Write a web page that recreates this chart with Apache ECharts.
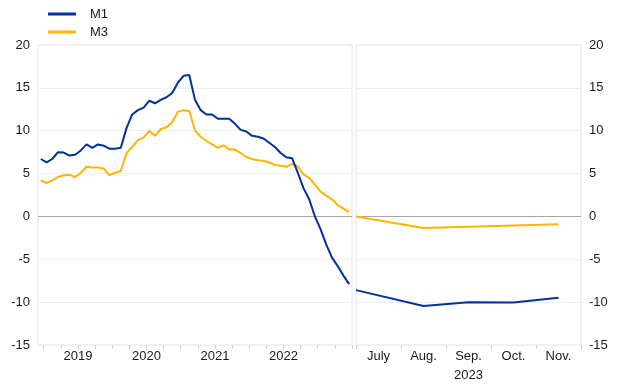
<!DOCTYPE html>
<html>
<head>
<meta charset="utf-8">
<script src="https://cdn.jsdelivr.net/npm/echarts@6/dist/echarts.min.js"></script>
<style>html,body{margin:0;padding:0;background:#fff}#c{width:620px;height:387px}</style>
</head>
<body>
<div id="c"></div>
<script>
// Monthly categories Dec 2018 - Jun 2023 (left panel)
const leftMonths = (function () {
  const out = ['2018-12'];
  for (let y = 2019; y <= 2023; y++) {
    for (let m = 1; m <= 12; m++) {
      if (y === 2023 && m > 6) break;
      out.push(y + '-' + String(m).padStart(2, '0'));
    }
  }
  return out;
})();

const m1Left = [6.7, 6.3, 6.7, 7.5, 7.45, 7.1, 7.2, 7.7, 8.4, 8.0, 8.4, 8.25, 7.9,
  7.9, 8.0, 10.3, 11.9, 12.4, 12.7, 13.5, 13.2, 13.6, 13.9, 14.4, 15.6,
  16.4, 16.5, 13.6, 12.4, 11.9, 11.9, 11.4, 11.4, 11.4, 10.8, 10.1, 9.9,
  9.4, 9.3, 9.1, 8.6, 8.1, 7.4, 6.9, 6.8, 5.1, 3.3, 2.0, 0.0,
  -1.5, -3.3, -4.8, -5.8, -6.9, -7.9];

const m3Left = [4.2, 3.9, 4.2, 4.6, 4.8, 4.85, 4.6, 5.1, 5.8, 5.7, 5.7, 5.6, 4.8,
  5.1, 5.3, 7.4, 8.1, 8.9, 9.2, 10.0, 9.4, 10.2, 10.4, 11.0, 12.2,
  12.4, 12.3, 10.0, 9.3, 8.8, 8.4, 8.0, 8.3, 7.8, 7.8, 7.4, 6.9,
  6.7, 6.55, 6.5, 6.3, 6.0, 5.9, 5.8, 6.1, 5.85, 4.9, 4.5, 3.7,
  2.9, 2.4, 2.0, 1.3, 0.9, 0.5];

// Right panel: Jul - Nov 2023
const rightMonths = ['July', 'Aug.', 'Sep.', 'Oct.', 'Nov.'];
const m1Right = [-8.6, -10.45, -10.0, -10.05, -9.5];
const m3Right = [0.0, -1.35, -1.2, -1.05, -0.9];

const yTicks = [-15, -10, -5, 0, 5, 10, 15, 20];

const BLUE = '#003299';
const YELLOW = '#ffb400';
const TXT = '#1a1a1a';
const FONT = 'Liberation Sans, Arial, sans-serif';

// first point of right panel sits at the panel edge, others at month centres
const rightX = (i) => (i === 0 ? 0 : i + 0.5);
const toPairs = (arr) => arr.map((v, i) => [rightX(i), v]);

const splitColors = yTicks.map(t => (t === 0 ? '#a6a6a6' : '#efefef'));

const chart = echarts.init(document.getElementById('c'), null, { renderer: 'canvas' });
chart.setOption({
  animation: false,
  textStyle: { fontFamily: FONT },
  legend: {
    orient: 'vertical',
    left: 43,
    top: 1,
    itemWidth: 28,
    itemHeight: 3,
    itemGap: 2,
    icon: 'rect',
    textStyle: { fontSize: 13, color: TXT, fontFamily: FONT, lineHeight: 16, padding: [0, 0, 0, 9] },
    data: ['M1', 'M3']
  },
  grid: [
    { left: 38, top: 45, width: 314, height: 300, show: true, borderColor: '#e4e4e4', borderWidth: 1,
      outerBoundsMode: 'none', containLabel: false },
    { left: 356, top: 45, width: 225, height: 300, show: true, borderColor: '#e4e4e4', borderWidth: 1,
      outerBoundsMode: 'none', containLabel: false }
  ],
  xAxis: [
    {
      type: 'category', gridIndex: 0, data: leftMonths, boundaryGap: true, position: 'bottom',
      axisLine: { show: false, onZero: false },
      axisTick: { show: true, length: 4, lineStyle: { color: '#d0d0d0' }, interval: (i) => (i - 1) % 3 === 0 },
      axisLabel: {
        interval: (i, v) => v.slice(5) === '07',
        formatter: (v) => '{a|' + v.slice(0, 4) + '}',
        margin: 5,
        rich: { a: { fontSize: 13, color: TXT, fontFamily: FONT, padding: [0, 5.7, 0, 0] } }
      },
      splitLine: { show: false }
    },
    {
      type: 'category', gridIndex: 1, data: rightMonths, boundaryGap: true, position: 'bottom',
      axisLine: { show: false, onZero: false },
      axisTick: { show: true, length: 4, lineStyle: { color: '#d0d0d0' } },
      axisLabel: {
        fontSize: 13, color: TXT, fontFamily: FONT, margin: 2, lineHeight: 19,
        formatter: (v) => (v === 'Sep.' ? 'Sep.\n2023' : v)
      },
      splitLine: { show: false }
    },
    {
      type: 'value', gridIndex: 1, min: 0, max: rightMonths.length, show: false,
      axisLine: { onZero: false }
    }
  ],
  yAxis: [
    {
      type: 'value', gridIndex: 0, min: -15, max: 20, interval: 5, position: 'left',
      axisLine: { show: false }, axisTick: { show: false },
      axisLabel: { fontSize: 13, color: TXT, fontFamily: FONT, margin: 8 },
      splitLine: { show: true, lineStyle: { color: splitColors, width: 1 } }
    },
    {
      type: 'value', gridIndex: 1, min: -15, max: 20, interval: 5, position: 'right',
      axisLine: { show: false }, axisTick: { show: false },
      axisLabel: { fontSize: 13, color: TXT, fontFamily: FONT, margin: 8 },
      splitLine: { show: true, lineStyle: { color: splitColors, width: 1 } }
    }
  ],
  series: [
    { name: 'M1', type: 'line', xAxisIndex: 0, yAxisIndex: 0, data: m1Left, symbol: 'none',
      lineStyle: { color: BLUE, width: 2 }, itemStyle: { color: BLUE }, z: 3 },
    { name: 'M3', type: 'line', xAxisIndex: 0, yAxisIndex: 0, data: m3Left, symbol: 'none',
      lineStyle: { color: YELLOW, width: 2 }, itemStyle: { color: YELLOW }, z: 2 },
    { name: 'M1', type: 'line', xAxisIndex: 2, yAxisIndex: 1, data: toPairs(m1Right), symbol: 'none',
      lineStyle: { color: BLUE, width: 2 }, itemStyle: { color: BLUE }, z: 3 },
    { name: 'M3', type: 'line', xAxisIndex: 2, yAxisIndex: 1, data: toPairs(m3Right), symbol: 'none',
      lineStyle: { color: YELLOW, width: 2 }, itemStyle: { color: YELLOW }, z: 2 }
  ]
});
</script>
</body>
</html>
